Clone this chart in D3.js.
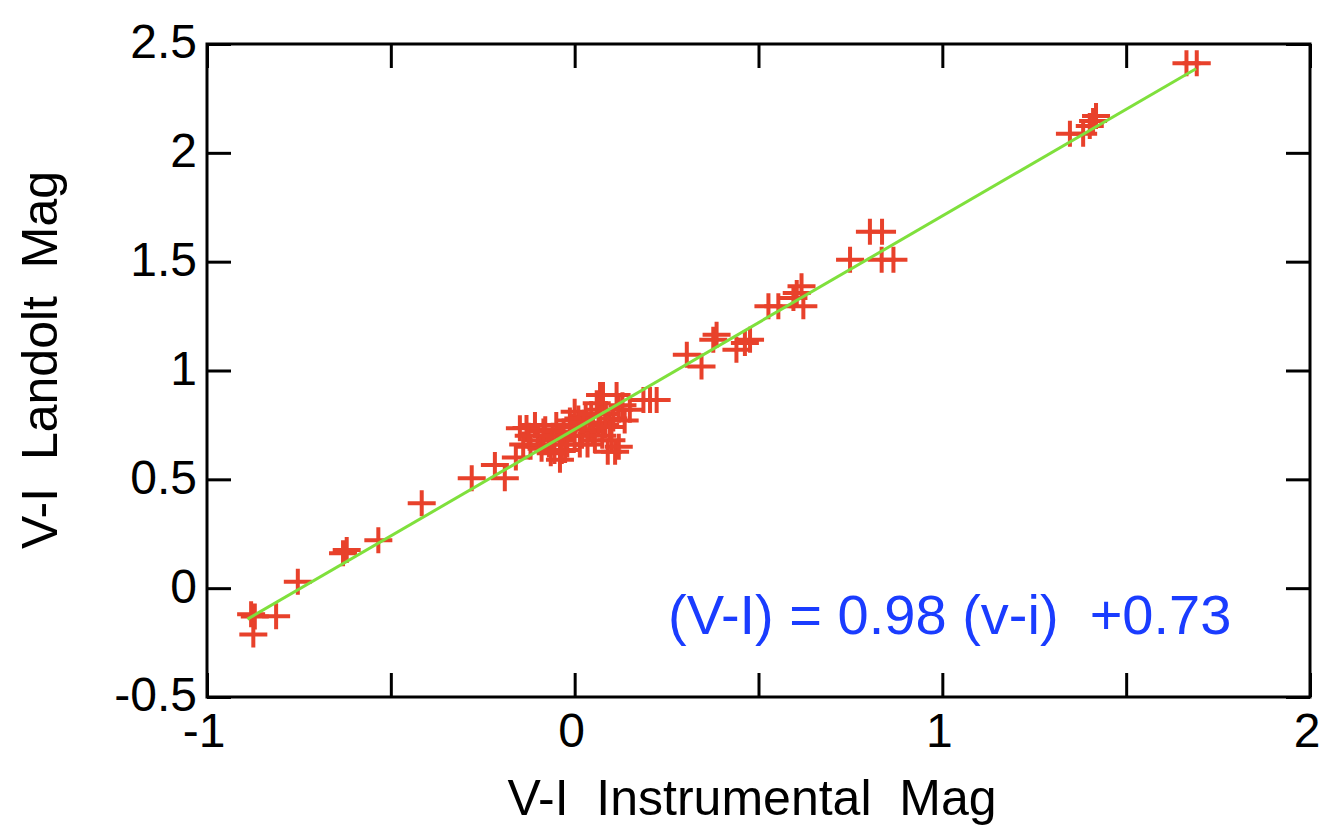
<!DOCTYPE html>
<html>
<head>
<meta charset="utf-8">
<script src="https://cdn.jsdelivr.net/npm/d3@7"></script>
<style>
  body { margin: 0; background: #fff; }
  svg text { font-family: "Liberation Sans", Arial, sans-serif; }
</style>
</head>
<body>
<svg id="chart" width="1329" height="826"></svg>
<script>
// instrumental v-i (x) vs Landolt V-I (y)
const instMag = [
  -0.88, -0.87, -0.874, -0.812, -0.753, -0.63, -0.62, -0.534, -0.416,
  -0.28, -0.217, -0.19, -0.16, -0.149, -0.131, -0.12, -0.108, -0.10, -0.08,
  -0.07, -0.05, -0.04, -0.04, -0.026, -0.013, 0.0, 0.0, 0.014, 0.03, 0.04,
  0.055, 0.069, 0.07, 0.077, 0.083, 0.09, 0.10, 0.11, 0.114, 0.12, 0.12,
  0.136, 0.187, 0.205, 0.223,
  -0.14, -0.125, -0.09, -0.085, -0.06, -0.055, -0.03, -0.02, -0.01, 0.01,
  0.02, 0.025, 0.045, 0.05, 0.06, 0.065, 0.075, 0.085, 0.095, 0.105,
  -0.065, -0.035, 0.035, 0.13, 0.15,
  0.305, 0.345, 0.377, 0.386, 0.44, 0.463, 0.477, 0.527, 0.554,
  0.595, 0.604, 0.617, 0.622, 0.749, 0.803, 0.836, 0.835, 0.867,
  1.347, 1.383, 1.401, 1.41, 1.418, 1.664, 1.692
]
const landoltMag = [
  -0.12, -0.13, -0.213, -0.129, 0.029, 0.16, 0.175, 0.22, 0.39,
  0.505, 0.566, 0.505, 0.60, 0.735, 0.736, 0.65, 0.75, 0.68, 0.73,
  0.66, 0.75, 0.68, 0.59, 0.635, 0.77, 0.70, 0.81, 0.66, 0.79, 0.73,
  0.68, 0.888, 0.82, 0.888, 0.75, 0.627, 0.68, 0.627, 0.888, 0.82, 0.65,
  0.77, 0.865, 0.865, 0.865,
  0.66, 0.70, 0.64, 0.72, 0.70, 0.63, 0.72, 0.66, 0.74, 0.78,
  0.70, 0.76, 0.80, 0.72, 0.85, 0.76, 0.70, 0.80, 0.74, 0.78,
  0.62, 0.63, 0.66, 0.84, 0.82,
  1.072, 1.018, 1.141, 1.164, 1.095, 1.126, 1.141, 1.295, 1.295,
  1.333, 1.356, 1.387, 1.295, 1.509, 1.638, 1.638, 1.509, 1.509,
  2.088, 2.088, 2.123, 2.146, 2.169, 2.411, 2.411
]
const fitSlope = 0.98
const fitIntercept = 0.73
const fitRange = [-0.89, 1.69]
const xTicks = [-1, 0, 1, 2]
const yTicks = [-0.5, 0, 0.5, 1, 1.5, 2, 2.5]
const minorStep = 0.5

const margin = { left: 207, right: 19, top: 44, bottom: 129 }
const W = 1329, H = 826
const svg = d3.select("#chart")

const x = d3.scaleLinear().domain([-1, 2]).range([margin.left, W - margin.right])
const y = d3.scaleLinear().domain([-0.5, 2.5]).range([H - margin.bottom, margin.top])

const tickLen = 24
const xTickVals = d3.range(-1, 2.001, minorStep)
const yTickVals = d3.range(-0.5, 2.501, minorStep)

// inward ticks on all four sides
const axisBottom = d3.axisBottom(x).tickValues(xTickVals).tickSizeInner(-tickLen).tickSizeOuter(0).tickFormat("")
const axisTop = d3.axisTop(x).tickValues(xTickVals).tickSizeInner(-tickLen).tickSizeOuter(0).tickFormat("")
const axisLeft = d3.axisLeft(y).tickValues(yTickVals).tickSizeInner(-tickLen).tickSizeOuter(0).tickFormat("")
const axisRight = d3.axisRight(y).tickValues(yTickVals).tickSizeInner(-tickLen).tickSizeOuter(0).tickFormat("")

svg.append("g").attr("transform", `translate(0,${y(-0.5)})`).call(axisBottom)
svg.append("g").attr("transform", `translate(0,${y(2.5)})`).call(axisTop)
svg.append("g").attr("transform", `translate(${x(-1)},0)`).call(axisLeft)
svg.append("g").attr("transform", `translate(${x(2)},0)`).call(axisRight)
svg.selectAll(".domain").remove()
svg.selectAll(".tick line").attr("stroke", "#000").attr("stroke-width", 3)

svg.append("rect")
  .attr("x", x(-1)).attr("y", y(2.5))
  .attr("width", x(2) - x(-1)).attr("height", y(-0.5) - y(2.5))
  .attr("fill", "none").attr("stroke", "#000").attr("stroke-width", 3)

// tick labels
svg.append("g").selectAll("text").data(xTicks).join("text")
  .attr("x", d => x(d) - 3).attr("y", 747)
  .attr("text-anchor", "middle").attr("font-size", 48)
  .text(d => d)

svg.append("g").selectAll("text").data(yTicks).join("text")
  .attr("x", 197).attr("y", d => y(d)).attr("dy", "0.3em")
  .attr("text-anchor", "end").attr("font-size", 48)
  .text(d => d)

// points as plus signs
const pts = instMag.map((v, i) => [v, landoltMag[i]])
svg.append("g").selectAll("path").data(pts).join("path")
  .attr("transform", d => `translate(${x(d[0])},${y(d[1])})`)
  .attr("d", "M-14,0H14M0,-13V13")
  .attr("stroke", "#e8412b").attr("stroke-width", 4).attr("fill", "none")

// fit line on top
svg.append("line")
  .attr("x1", x(fitRange[0])).attr("y1", y(fitSlope * fitRange[0] + fitIntercept))
  .attr("x2", x(fitRange[1])).attr("y2", y(fitSlope * fitRange[1] + fitIntercept))
  .attr("stroke", "#7fe03c").attr("stroke-width", 3)

// equation
svg.append("text")
  .attr("x", 668).attr("y", 634)
  .attr("font-size", 56).attr("fill", "#1a3cff")
  .attr("xml:space", "preserve")
  .text("(V-I) = 0.98 (v-i)  +0.73")

// axis titles
svg.append("text")
  .attr("x", 752).attr("y", 815)
  .attr("text-anchor", "middle").attr("font-size", 50)
  .attr("xml:space", "preserve")
  .text("V-I  Instrumental  Mag")

svg.append("text")
  .attr("transform", "translate(57,360) rotate(-90)")
  .attr("text-anchor", "middle").attr("font-size", 50)
  .attr("xml:space", "preserve")
  .text("V-I  Landolt  Mag")
</script>
</body>
</html>
